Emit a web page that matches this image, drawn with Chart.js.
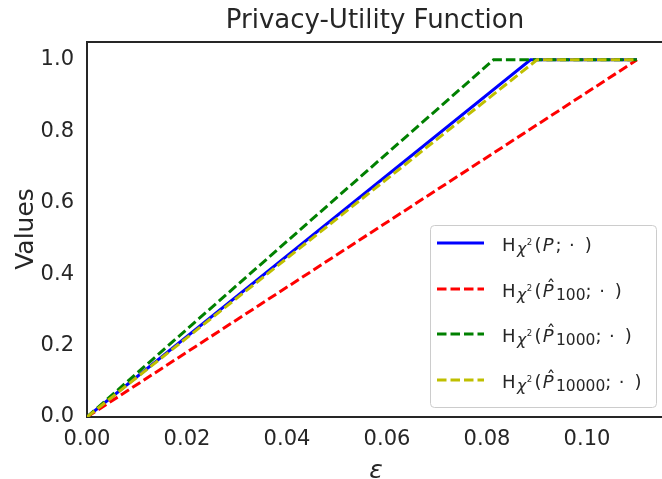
<!DOCTYPE html>
<html lang="en">
<head>
  <meta charset="UTF-8" />
  <title>Privacy-Utility Function</title>
  <script src="https://cdn.jsdelivr.net/npm/chart.js@4.4.0/dist/chart.umd.min.js"></script>
  <style>
    html, body { margin: 0; padding: 0; background: white; }
    #wrap { width: 662px; height: 479px; }
  </style>
</head>
<body>
<div id="wrap"><canvas id="chart" width="662" height="479"></canvas></div>

<script>
// data
const epsBlue = [0, 0.0887, 0.11];
const valBlue = [0, 1.0, 1.0];
const epsRed = [0, 0.11];
const valRed = [0, 1.0];
const epsGreen = [0, 0.0813, 0.11];
const valGreen = [0, 1.0, 1.0];
const epsYellow = [0, 0.0900, 0.11];
const valYellow = [0, 1.0, 1.0];

const seriesSubs = ['', '100', '1000', '10000'];
const seriesColors = ['#0000ff', '#ff0000', '#008000', '#bfbf00'];

const FONT = '"DejaVu Sans", sans-serif';
const INK = '#262626';

const pts = (xs, ys) => xs.map((x, i) => ({ x: x, y: ys[i] }));

function makeSet(xs, ys, i, dashed) {
  return {
    data: pts(xs, ys),
    borderColor: seriesColors[i],
    borderWidth: 3,
    borderDash: dashed ? [9.5, 4] : [],
    borderCapStyle: 'butt',
    pointRadius: 0,
    tension: 0,
    fill: false,
    order: 4 - i
  };
}

// math-ish legend label: H_{chi^2}(P^_{sub}; .)
function drawMathLabel(ctx, x, y, sub) {
  ctx.fillStyle = INK;
  ctx.textBaseline = 'alphabetic';
  ctx.textAlign = 'left';
  ctx.font = '18px ' + FONT;
  ctx.fillText('H', x, y);
  let cx = x + ctx.measureText('H').width + 1.5;
  ctx.font = 'italic 15.5px ' + FONT;
  ctx.fillText('χ', cx, y + 2.5);
  cx += ctx.measureText('χ').width + 0.5;
  ctx.font = '8.5px ' + FONT;
  ctx.fillText('2', cx, y - 6);
  cx += ctx.measureText('2').width + 2.5;
  ctx.font = '18px ' + FONT;
  ctx.fillText('(', cx, y);
  cx += ctx.measureText('(').width + 1;
  ctx.font = 'italic 18px ' + FONT;
  ctx.fillText('P', cx, y);
  const pw = ctx.measureText('P').width;
  if (sub) {
    ctx.font = '18px ' + FONT;
    ctx.textAlign = 'center';
    ctx.fillText('ˆ', cx + pw / 2 + 3, y - 4);
    ctx.textAlign = 'left';
  }
  cx += pw + 2.5;
  if (sub) {
    ctx.font = '15.5px ' + FONT;
    ctx.fillText(sub, cx, y + 2.5);
    cx += ctx.measureText(sub).width;
  } else {
    cx -= 0.5;
  }
  ctx.font = '18px ' + FONT;
  ctx.fillText(';', cx, y);
  cx += ctx.measureText(';').width + 7.5;
  ctx.fillText('·', cx, y);
  cx += ctx.measureText('·').width + 10;
  ctx.fillText(')', cx, y);
}

const decor = {
  id: 'decor',
  afterDraw(chart) {
    const ctx = chart.ctx;
    const a = chart.chartArea;
    ctx.save();

    // top spine
    ctx.strokeStyle = INK;
    ctx.lineWidth = 2;
    ctx.beginPath();
    ctx.moveTo(a.left - 1, a.top);
    ctx.lineTo(chart.width, a.top);
    ctx.stroke();

    // title
    ctx.fillStyle = INK;
    ctx.font = '26px ' + FONT;
    ctx.textAlign = 'center';
    ctx.textBaseline = 'alphabetic';
    ctx.fillText('Privacy-Utility Function', 375, 28);

    // axis labels
    ctx.font = 'italic 25px ' + FONT;
    ctx.fillText('ε', 376, 478);
    ctx.save();
    ctx.translate(33, 229);
    ctx.rotate(-Math.PI / 2);
    ctx.font = '25px ' + FONT;
    ctx.fillText('Values', 0, 0);
    ctx.restore();

    // legend
    const lx = 430, ly = 225, lw = 226, lh = 182;
    ctx.fillStyle = 'rgba(255,255,255,0.8)';
    ctx.strokeStyle = '#cccccc';
    ctx.lineWidth = 1;
    ctx.beginPath();
    ctx.roundRect(lx + 0.5, ly + 0.5, lw, lh, 4);
    ctx.fill();
    ctx.stroke();

    const rows = [243, 289, 334, 380];
    rows.forEach((ry, i) => {
      ctx.strokeStyle = seriesColors[i];
      ctx.lineWidth = 3;
      ctx.setLineDash(i === 0 ? [] : [9.5, 4]);
      ctx.beginPath();
      ctx.moveTo(437, ry);
      ctx.lineTo(484, ry);
      ctx.stroke();
      ctx.setLineDash([]);
      drawMathLabel(ctx, 502, ry + 8, seriesSubs[i]);
    });
    ctx.restore();
  }
};

new Chart(document.getElementById('chart').getContext('2d'), {
  type: 'line',
  data: {
    datasets: [
      makeSet(epsBlue, valBlue, 0, false),
      makeSet(epsRed, valRed, 1, true),
      makeSet(epsGreen, valGreen, 2, true),
      makeSet(epsYellow, valYellow, 3, true)
    ]
  },
  options: {
    responsive: false,
    animation: false,
    layout: { padding: { top: 42, left: 0, right: 0, bottom: 0 } },
    plugins: { legend: { display: false }, title: { display: false }, tooltip: { enabled: false } },
    scales: {
      x: {
        type: 'linear',
        min: 0,
        max: 0.115,
        afterFit: s => { s.height = 62; },
        grid: { display: false, drawTicks: false },
        border: { display: true, color: INK, width: 2 },
        ticks: {
          stepSize: 0.02,
          includeBounds: false,
          padding: 10,
          color: INK,
          font: { family: FONT, size: 21 },
          callback: v => v.toFixed(2)
        }
      },
      y: {
        min: 0,
        max: 1.05,
        afterFit: s => { s.width = 87; },
        grid: { display: false, drawTicks: false },
        border: { display: true, color: INK, width: 2 },
        ticks: {
          stepSize: 0.2,
          includeBounds: false,
          padding: 13,
          color: INK,
          font: { family: FONT, size: 21 },
          callback: v => v.toFixed(1)
        }
      }
    }
  },
  plugins: [decor]
});
</script>
</body>
</html>
